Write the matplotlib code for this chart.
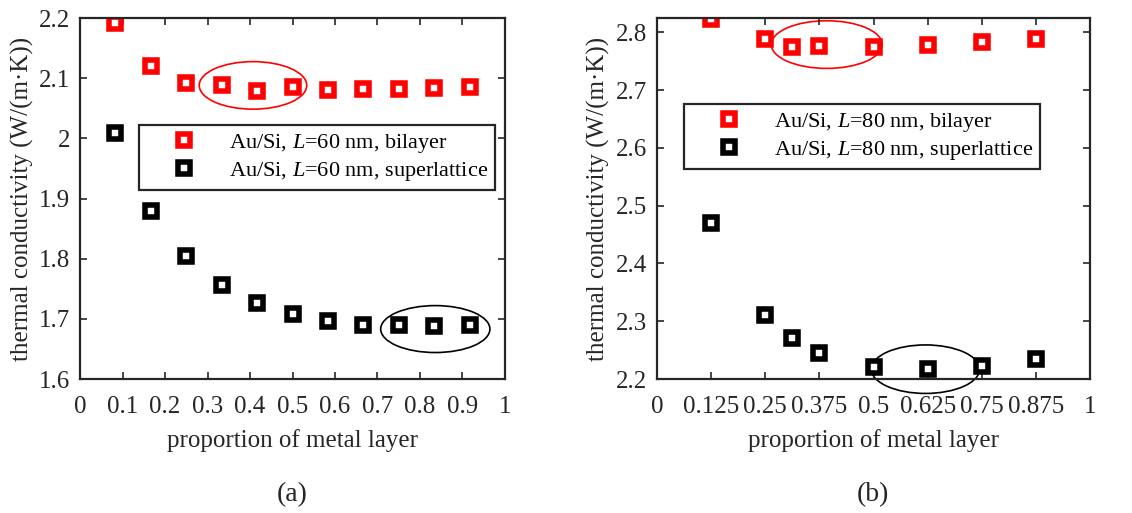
import matplotlib
matplotlib.use('Agg')
import matplotlib.pyplot as plt
from matplotlib.patches import Ellipse

plt.rcParams['font.family'] = ['Liberation Serif', 'DejaVu Serif']
plt.rcParams['mathtext.fontset'] = 'custom'
plt.rcParams['mathtext.it'] = 'Liberation Serif:italic'
plt.rcParams['mathtext.rm'] = 'Liberation Serif'

# panel (a): L = 60 nm
x_a = [1/12, 2/12, 3/12, 4/12, 5/12, 6/12, 7/12, 8/12, 9/12, 10/12, 11/12]
bilayer_a = [2.192, 2.120, 2.092, 2.088, 2.079, 2.085, 2.080, 2.082, 2.082, 2.084, 2.086]
super_a = [2.009, 1.880, 1.804, 1.757, 1.727, 1.708, 1.696, 1.689, 1.689, 1.688, 1.690]

# panel (b): L = 80 nm
x_b = [0.125, 0.25, 0.3125, 0.375, 0.5, 0.625, 0.75, 0.875]
bilayer_b = [2.823, 2.788, 2.775, 2.777, 2.774, 2.778, 2.783, 2.788]
super_b = [2.470, 2.310, 2.271, 2.245, 2.221, 2.217, 2.222, 2.234]

xticks_a = [0, 0.1, 0.2, 0.3, 0.4, 0.5, 0.6, 0.7, 0.8, 0.9, 1]
xticklabels_a = ['0', '0.1', '0.2', '0.3', '0.4', '0.5', '0.6', '0.7', '0.8', '0.9', '1']
xticks_b = [0, 0.125, 0.25, 0.375, 0.5, 0.625, 0.75, 0.875, 1]
xticklabels_b = ['0', '0.125', '0.25', '0.375', '0.5', '0.625', '0.75', '0.875', '1']

fig = plt.figure(figsize=(11.32, 5.13), dpi=100)
ax1 = fig.add_axes([0.0707, 0.2612, 0.3754, 0.7037])
ax2 = fig.add_axes([0.5804, 0.2612, 0.3825, 0.7037])

mk = dict(marker='s', linestyle='none', markersize=9, markeredgewidth=4,
          markerfacecolor='white')

def style(ax):
    ax.tick_params(direction='in', top=True, right=True, labelsize=18,
                   length=5, width=1.2, colors='#262626')
    ax.tick_params(axis='x', pad=12)
    ax.tick_params(axis='y', pad=7)
    for s in ax.spines.values():
        s.set_linewidth(1.6)
        s.set_color('#262626')
    ax.set_xlabel('proportion of metal layer', fontsize=18, color='#262626', labelpad=8)
    ax.set_ylabel('thermal conductivity (W/(m·K))', fontsize=18, color='#262626', labelpad=4)

def legend(ax, anchor):
    leg = ax.legend(loc='upper left', bbox_to_anchor=anchor, borderaxespad=0, fontsize=16,
                    frameon=True, fancybox=False, edgecolor='#262626', framealpha=1,
                    handletextpad=0.3, borderpad=0.3, labelspacing=0.25, handlelength=3.45)
    leg.get_frame().set_linewidth(1.6)

ax1.plot(x_a, bilayer_a, color='#ff0000', label=r'Au/Si, $L$=60 nm, bilayer', **mk)
ax1.plot(x_a, super_a, color='black', label=r'Au/Si, $L$=60 nm, superlattice', **mk)
ax1.set_xlim(0, 1)
ax1.set_ylim(1.6, 2.2)
ax1.set_xticks(xticks_a)
ax1.set_xticklabels(xticklabels_a)
ax1.set_yticks([1.6, 1.7, 1.8, 1.9, 2.0, 2.1, 2.2])
ax1.set_yticklabels(['1.6', '1.7', '1.8', '1.9', '2', '2.1', '2.2'])
style(ax1)
ax1.add_patch(Ellipse((0.407, 2.088), 0.253, 0.079, fill=False, edgecolor='#ff0000', lw=1.2))
ax1.add_patch(Ellipse((0.836, 1.683), 0.257, 0.078, fill=False, edgecolor='black', lw=1.2, clip_on=False))
legend(ax1, (0.139, 0.704))

ax2.plot(x_b, bilayer_b, color='#ff0000', label=r'Au/Si, $L$=80 nm, bilayer', **mk)
ax2.plot(x_b, super_b, color='black', label=r'Au/Si, $L$=80 nm, superlattice', **mk)
ax2.set_xlim(0, 1)
ax2.set_ylim(2.2, 2.825)
ax2.set_xticks(xticks_b)
ax2.set_xticklabels(xticklabels_b)
ax2.set_yticks([2.2, 2.3, 2.4, 2.5, 2.6, 2.7, 2.8])
ax2.set_yticklabels(['2.2', '2.3', '2.4', '2.5', '2.6', '2.7', '2.8'])
style(ax2)
ax2.add_patch(Ellipse((0.392, 2.779), 0.256, 0.0825, fill=False, edgecolor='#ff0000', lw=1.2, clip_on=False))
ax2.add_patch(Ellipse((0.620, 2.217), 0.250, 0.084, fill=False, edgecolor='black', lw=1.2, clip_on=False))
legend(ax2, (0.062, 0.762))

fig.text(0.258, 0.036, '(a)', fontsize=20, ha='center', va='center', color='#262626')
fig.text(0.771, 0.036, '(b)', fontsize=20, ha='center', va='center', color='#262626')

plt.savefig('out.png', dpi=100)
